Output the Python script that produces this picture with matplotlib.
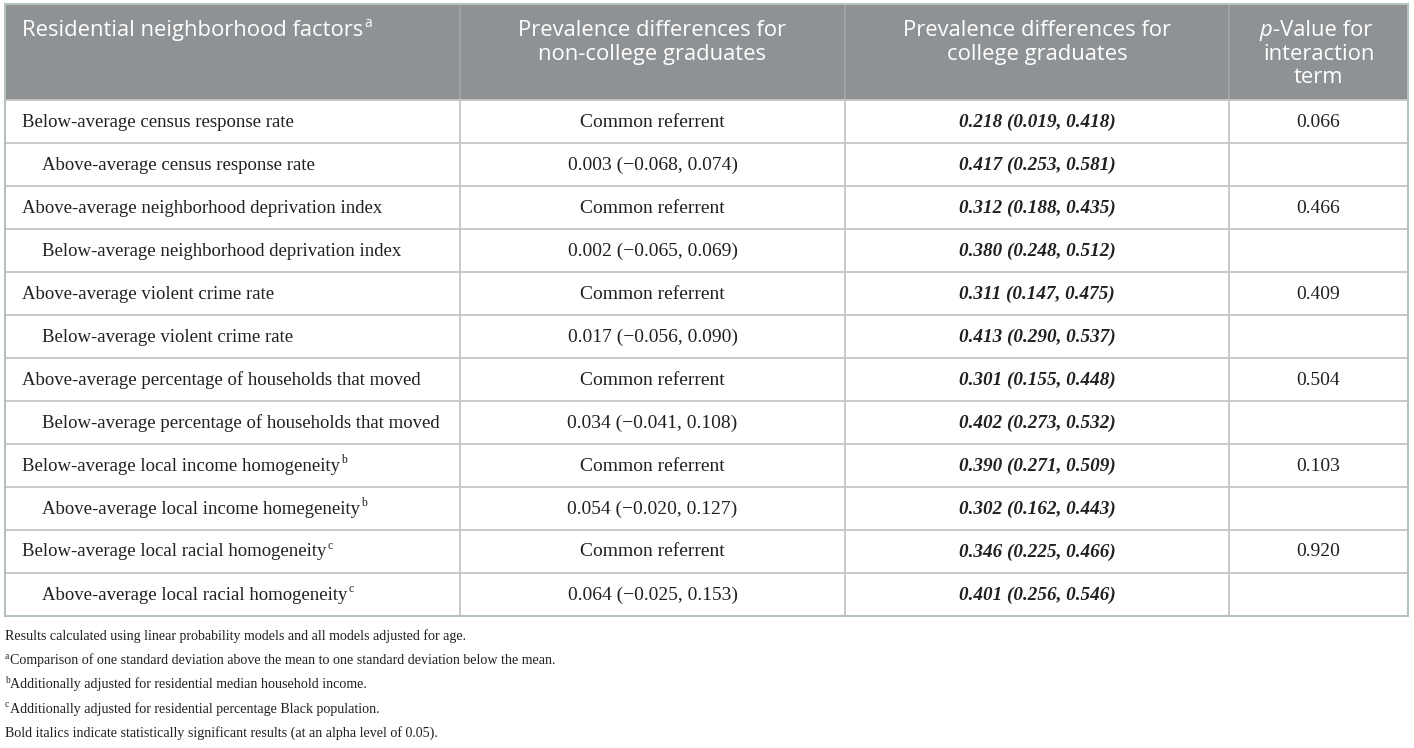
import matplotlib
matplotlib.use("Agg")
import matplotlib.pyplot as plt

# ---- data ----
headers = [
    ["Residential neighborhood factors"],
    ["Prevalence differences for", "non-college graduates"],
    ["Prevalence differences for", "college graduates"],
    ["p-Value for", "interaction", "term"],
]
header_sup = ["a", "", "", ""]

factors = [
    "Below-average census response rate",
    "Above-average census response rate",
    "Above-average neighborhood deprivation index",
    "Below-average neighborhood deprivation index",
    "Above-average violent crime rate",
    "Below-average violent crime rate",
    "Above-average percentage of households that moved",
    "Below-average percentage of households that moved",
    "Below-average local income homogeneity",
    "Above-average local income homegeneity",
    "Below-average local racial homogeneity",
    "Above-average local racial homogeneity",
]
factor_sup = ["", "", "", "", "", "", "", "", "b", "b", "c", "c"]
indent_level = [0, 1, 0, 1, 0, 1, 0, 1, 0, 1, 0, 1]

non_college = [
    "Common referrent", "0.003 (\u22120.068, 0.074)",
    "Common referrent", "0.002 (\u22120.065, 0.069)",
    "Common referrent", "0.017 (\u22120.056, 0.090)",
    "Common referrent", "0.034 (\u22120.041, 0.108)",
    "Common referrent", "0.054 (\u22120.020, 0.127)",
    "Common referrent", "0.064 (\u22120.025, 0.153)",
]
college = [
    "0.218 (0.019, 0.418)", "0.417 (0.253, 0.581)",
    "0.312 (0.188, 0.435)", "0.380 (0.248, 0.512)",
    "0.311 (0.147, 0.475)", "0.413 (0.290, 0.537)",
    "0.301 (0.155, 0.448)", "0.402 (0.273, 0.532)",
    "0.390 (0.271, 0.509)", "0.302 (0.162, 0.443)",
    "0.346 (0.225, 0.466)", "0.401 (0.256, 0.546)",
]
p_values = ["0.066", "", "0.466", "", "0.409", "", "0.504", "", "0.103", "", "0.920", ""]

footnotes = [
    ("", "Results calculated using linear probability models and all models adjusted for age."),
    ("a", "Comparison of one standard deviation above the mean to one standard deviation below the mean."),
    ("b", "Additionally adjusted for residential median household income."),
    ("c", "Additionally adjusted for residential percentage Black population."),
    ("", "Bold italics indicate statistically significant results (at an alpha level of 0.05)."),
]

# ---- layout ----
W, H = 1414, 748
fig = plt.figure(figsize=(W / 100, H / 100), dpi=100)
ax = fig.add_axes([0, 0, 1, 1])
ax.set_xlim(0, W)
ax.set_ylim(H, 0)
ax.axis("off")

col_x = [5, 460, 845, 1229, 1408]
top, head_bot, row_h = 4, 100, 43.0
n = len(factors)
bottom = head_bot + n * row_h

SERIF = ["Liberation Serif", "DejaVu Serif"]
SANS = ["Open Sans", "DejaVu Sans"]
TXT = "#231f20"
GRID = "#c4c6c6"
HEAD_BG = "#8f9294"
BORDER = "#b5c2be"

label_fs = 13.5
body_fs = 14.0
bold_fs = 13.8
head_fs = 15.8
foot_fs = 10.1

fig.canvas.draw()
renderer = fig.canvas.get_renderer()


def text_with_sup(x, y, s, sup, fs, family, color, ha="left", style="normal", weight="normal"):
    t = ax.text(x, y, s, fontsize=fs, family=family, color=color, ha=ha, va="center",
                style=style, weight=weight)
    if sup:
        bb = t.get_window_extent(renderer=renderer)
        inv = ax.transData.inverted()
        x1, _ = inv.transform((bb.x1, bb.y1))
        ax.text(x1 + 1, y - fs * 0.42, sup, fontsize=fs * 0.62, family=family, color=color,
                ha="left", va="center")
    return t


# header background
ax.add_patch(plt.Rectangle((col_x[0], top), col_x[-1] - col_x[0], head_bot - top,
                           facecolor=HEAD_BG, edgecolor="none", zorder=0))
for xv in col_x[1:-1]:
    ax.plot([xv, xv], [top, head_bot], color="#a3a6a8", lw=1.2, zorder=1)

# header text
line_gap = 23.5
first_y = 30.5
for ci, lines in enumerate(headers):
    for li, line in enumerate(lines):
        y = first_y + li * line_gap
        if ci == 0:
            text_with_sup(22, y, line, header_sup[ci], head_fs, SANS, "white")
        else:
            cx = (col_x[ci] + col_x[ci + 1]) / 2
            if line.startswith("p-"):
                t = ax.text(cx + 4, y, line[1:], fontsize=head_fs, family=SANS, color="white",
                            ha="center", va="center")
                bb = t.get_window_extent(renderer=renderer)
                inv = ax.transData.inverted()
                x0, _ = inv.transform((bb.x0, bb.y0))
                ax.text(x0 - 0.5, y, "p", fontsize=head_fs, family=SANS, color="white",
                        ha="right", va="center", style="italic")
            else:
                ax.text(cx, y, line, fontsize=head_fs, family=SANS, color="white",
                        ha="center", va="center")

# grid lines
for i in range(1, n):
    yv = head_bot + i * row_h
    ax.plot([col_x[0], col_x[-1]], [yv, yv], color=GRID, lw=1.3, zorder=1)
for xv in col_x[1:-1]:
    ax.plot([xv, xv], [head_bot, bottom], color=GRID, lw=1.3, zorder=1)
ax.plot([col_x[0], col_x[-1]], [head_bot, head_bot], color=GRID, lw=1.3, zorder=1)
# outer border
ax.add_patch(plt.Rectangle((col_x[0], top), col_x[-1] - col_x[0], bottom - top,
                           facecolor="none", edgecolor=BORDER, lw=1.5, zorder=2))

# body
for i in range(n):
    yc = head_bot + i * row_h + row_h / 2 + 0.5
    xl = 22 + 20 * indent_level[i]
    text_with_sup(xl, yc, factors[i], factor_sup[i], label_fs, SERIF, TXT)
    ax.text((col_x[1] + col_x[2]) / 2, yc, non_college[i], fontsize=body_fs, family=SERIF,
            color=TXT, ha="center", va="center")
    ax.text((col_x[2] + col_x[3]) / 2, yc, college[i], fontsize=bold_fs, family=SERIF,
            color=TXT, ha="center", va="center", style="italic", weight="bold")
    if p_values[i]:
        ax.text((col_x[3] + col_x[4]) / 2, yc, p_values[i], fontsize=body_fs, family=SERIF,
                color=TXT, ha="center", va="center")

# footnotes
fy0, fgap = 636, 24.3
for k, (sup, s) in enumerate(footnotes):
    y = fy0 + k * fgap
    x = 5
    if sup:
        t = ax.text(x, y - 4, sup, fontsize=foot_fs * 0.68, family=SERIF, color=TXT,
                    ha="left", va="center")
        bb = t.get_window_extent(renderer=renderer)
        inv = ax.transData.inverted()
        x, _ = inv.transform((bb.x1, bb.y1))
        x += 0.5
    ax.text(x, y, s, fontsize=foot_fs, family=SERIF, color=TXT, ha="left", va="center")

fig.savefig("out.png", dpi=100)
